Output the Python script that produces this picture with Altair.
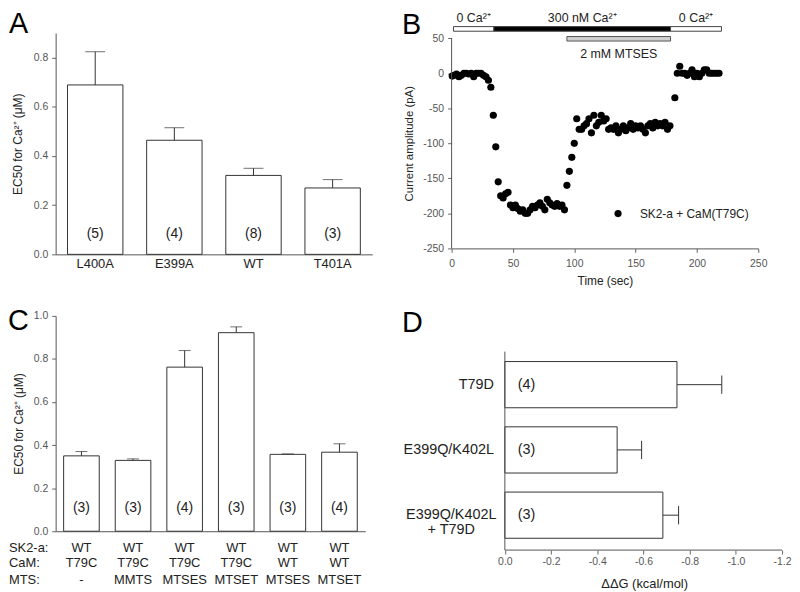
import altair as alt
import pandas as pd

FONT = "Liberation Sans"
INK = "#333333"

# ---------------- Panel A data ----------------
a_cats = ["L400A", "E399A", "WT", "T401A"]
a_vals = [0.689, 0.464, 0.321, 0.270]
a_errs = [0.824, 0.515, 0.350, 0.304]
a_n = ["(5)", "(4)", "(8)", "(3)"]

# ---------------- Panel B data ----------------
b_time = [0.5, 2, 4, 6, 8, 10, 12, 14, 16, 18, 20, 22, 24, 26, 28, 30, 32, 34, 36, 38,
          40, 42, 44, 46, 48, 50, 52, 54, 56, 58, 60, 62, 64, 66, 68, 70, 72, 74, 76, 78,
          80, 82, 84, 86, 88, 90, 92, 94, 96, 98, 100, 102, 104, 106, 108, 110, 112, 114, 116, 118,
          120, 122, 124, 126, 128, 130, 132, 134, 136, 138, 140, 142, 144, 146, 148, 150, 152, 154, 156, 158,
          160, 162, 164, 166, 168, 170, 172, 174, 176, 178, 182, 184, 186, 188, 190, 192, 194, 196, 198, 200,
          202, 204, 206, 208, 210, 212, 214, 216, 218]
b_curr = [-4, -3, -1, -5, -3, 0, 0, -1, 0, -5, 0, 0, 0, -3, -5, -10, -20, -60, -105, -155,
          -175, -178, -172, -170, -188, -192, -188, -193, -197, -195, -200, -200, -195, -190, -192, -188, -185, -190, -195, -180,
          -185, -188, -190, -186, -190, -188, -195, -160, -140, -120, -100, -65, -80, -80, -75, -72, -65, -85, -60, -75,
          -70, -60, -68, -65, -80, -78, -80, -75, -85, -80, -75, -82, -78, -72, -80, -75, -78, -75, -80, -85,
          -75, -72, -78, -70, -75, -72, -75, -70, -80, -75, -35, 0, 10, 0, 0, -3, 0, 5, -5, 0,
          -5, 0, 5, 5, 0, 0, 0, 0, 0]
b_seg_start = [1.5, 34.5, 178.5]
b_seg_end = [34.5, 178.5, 220.0]
b_seg_fill = ["white", "black", "white"]
b_seg_label = ["0 Ca²⁺", "300 nM Ca²⁺", "0 Ca²⁺"]
b_drug_start = [94.0]
b_drug_end = [178.5]
b_drug_label = ["2 mM MTSES"]
b_legend = ["SK2-a + CaM(T79C)"]

# ---------------- Panel C data ----------------
c_sk2 = ["WT", "WT", "WT", "WT", "WT", "WT"]
c_cam = ["T79C", "T79C", "T79C", "T79C", "WT", "WT"]
c_mts = ["-", "MMTS", "MTSES", "MTSET", "MTSES", "MTSET"]
c_vals = [0.350, 0.329, 0.762, 0.922, 0.357, 0.367]
c_errs = [0.370, 0.336, 0.839, 0.949, 0.359, 0.406]
c_n = ["(3)", "(3)", "(4)", "(3)", "(3)", "(4)"]
c_heads = ["SK2-a:", "CaM:", "MTS:"]

# ---------------- Panel D data ----------------
d_cats = ["T79D", "E399Q/K402L", "E399Q/K402L\n+ T79D"]
d_vals = [-0.745, -0.486, -0.684]
d_errs = [-0.939, -0.592, -0.752]
d_n = ["(4)", "(3)", "(3)"]


def letter(ch, dx, dy):
    return alt.Chart(pd.DataFrame({"t": [ch]})).mark_text(
        font=FONT, fontSize=29, align="left", baseline="alphabetic", color="black").encode(
        x=alt.value(dx), y=alt.value(dy), text="t:N")


def ax(**kw):
    base = dict(labelFont=FONT, titleFont=FONT, labelColor="#555555", tickColor="#666666",
                domainColor="#555555", titleColor="#222222", titleFontWeight="normal",
                grid=False, tickSize=4, labelFlush=False)
    base.update(kw)
    return alt.Axis(**base)


# ================= Panel A =================
dfA = pd.DataFrame({"cat": a_cats, "val": a_vals, "err": a_errs, "n": a_n})
dfA["npos"] = 0.083
scA_x = alt.Scale(domain=a_cats, paddingInner=0.3, paddingOuter=0.15)
scA_y = alt.Scale(domain=[0, 0.9], nice=False)
axA_x = ax(labelAngle=0, ticks=False, labelFontSize=13, labelColor="#222222", labelPadding=3)
axA_y = ax(values=[0, 0.2, 0.4, 0.6, 0.8], format=".1f", labelFontSize=10.5, labelPadding=4,
           titleFontSize=12, titlePadding=9)
titleA = "EC50 for Ca²⁺ (μM)"


def xA():
    return alt.X("cat:N", scale=scA_x, axis=axA_x, title=None)


def yA(f):
    return alt.Y(f, scale=scA_y, axis=axA_y, title=titleA)


barsA = alt.Chart(dfA).mark_bar(fill="white", stroke=INK, strokeWidth=1).encode(x=xA(), y=yA("val:Q"))
errA = alt.Chart(dfA).mark_rule(color=INK).encode(x=xA(), y=yA("val:Q"), y2="err:Q")
capA = alt.Chart(dfA).mark_tick(color=INK, size=20, thickness=1).encode(x=xA(), y=yA("err:Q"))
nA = alt.Chart(dfA).mark_text(font=FONT, fontSize=14, color="#222222").encode(
    x=xA(), y=yA("npos:Q"), text="n:N")
panelA = alt.layer(barsA, errA, capA, nA, letter("A", -47, 0)).properties(width=319, height=223)

# ================= Panel B =================
dfB = pd.DataFrame({"t": b_time, "c": b_curr})
dfSeg = pd.DataFrame({"s": b_seg_start, "e": b_seg_end, "f": b_seg_fill, "lab": b_seg_label})
dfSeg["mid"] = (dfSeg["s"] + dfSeg["e"]) / 2
dfSeg["ylo"] = 60.0
dfSeg["yhi"] = 66.6
dfSeg["ly"] = 79.5
dfDrug = pd.DataFrame({"s": b_drug_start, "e": b_drug_end, "lab": b_drug_label})
dfDrug["mid"] = (dfDrug["s"] + dfDrug["e"]) / 2
dfDrug["ylo"] = 46.0
dfDrug["yhi"] = 52.4
dfDrug["ly"] = 27.0
dfLeg = pd.DataFrame({"lab": b_legend, "x": [135.7], "tx": [153.5], "y": [-200.3]})
dfAxB = pd.DataFrame({"x": [0], "ylo": [-250], "yhi": [50]})

scB_x = alt.Scale(domain=[0, 250], nice=False)
scB_y = alt.Scale(domain=[-250, 57.4], nice=False)
axB_x = ax(values=[0, 50, 100, 150, 200, 250], format="d", labelFontSize=10.5, labelPadding=6,
           titleFontSize=12, titlePadding=7)
axB_y = ax(values=[-250, -200, -150, -100, -50, 0, 50], domain=False, labelFontSize=10.5,
           labelPadding=4, labelExpr="(datum.value < 0 ? '-' : '') + format(abs(datum.value), 'd')",
           titleFontSize=11.5, titlePadding=8, titleY=111)


def xB(f):
    return alt.X(f, scale=scB_x, axis=axB_x, title="Time (sec)")


def yB(f):
    return alt.Y(f, scale=scB_y, axis=axB_y, title="Current amplitude (pA)")


ptsB = alt.Chart(dfB).mark_circle(color="black", size=52, opacity=1).encode(x=xB("t:Q"), y=yB("c:Q"))
yaxisB = alt.Chart(dfAxB).mark_rule(color="#555555").encode(x=xB("x:Q"), y=yB("ylo:Q"), y2="yhi:Q")
segB = alt.Chart(dfSeg).mark_rect(stroke="#444444", strokeWidth=1).encode(
    x=xB("s:Q"), x2="e:Q", y=yB("ylo:Q"), y2="yhi:Q", fill=alt.Fill("f:N", scale=None))
segLab = alt.Chart(dfSeg).mark_text(font=FONT, fontSize=12.5, color="#222222").encode(
    x=xB("mid:Q"), y=yB("ly:Q"), text="lab:N")
drugB = alt.Chart(dfDrug).mark_rect(fill="#d0d0d0", stroke="#555555", strokeWidth=1).encode(
    x=xB("s:Q"), x2="e:Q", y=yB("ylo:Q"), y2="yhi:Q")
drugLab = alt.Chart(dfDrug).mark_text(font=FONT, fontSize=12.5, color="#222222").encode(
    x=xB("mid:Q"), y=yB("ly:Q"), text="lab:N")
legDot = alt.Chart(dfLeg).mark_circle(color="black", size=52, opacity=1).encode(x=xB("x:Q"), y=yB("y:Q"))
legTxt = alt.Chart(dfLeg).mark_text(font=FONT, fontSize=12, align="left", color="#222222").encode(
    x=xB("tx:Q"), y=yB("y:Q"), text="lab:N")
panelB = alt.layer(ptsB, yaxisB, segB, drugB, segLab, drugLab, legDot, legTxt,
                   letter("B", -50, 0.5)).properties(width=309, height=217)

# ================= Panel C =================
c_key = [c + " " + m for c, m in zip(c_cam, c_mts)]
dfC = pd.DataFrame({"key": c_key, "sk2": c_sk2, "cam": c_cam, "mts": c_mts,
                    "val": c_vals, "err": c_errs, "n": c_n})
dfC["npos"] = 0.109
dfC["zero"] = 0.0
scC_x = alt.Scale(domain=c_key, paddingInner=0.31, paddingOuter=0.155)
scC_y = alt.Scale(domain=[0, 1.0], nice=False)
axC_x = ax(labels=False, ticks=False)
axC_y = ax(values=[0, 0.2, 0.4, 0.6, 0.8, 1.0], format=".1f", labelFontSize=10.5, labelPadding=4,
           titleFontSize=12, titlePadding=8)
titleC = "EC50 for Ca²⁺ (μM)"


def xC():
    return alt.X("key:N", scale=scC_x, axis=axC_x, title=None)


def yC(f):
    return alt.Y(f, scale=scC_y, axis=axC_y, title=titleC)


barsC = alt.Chart(dfC).mark_bar(fill="white", stroke=INK, strokeWidth=1).encode(x=xC(), y=yC("val:Q"))
errC = alt.Chart(dfC).mark_rule(color=INK).encode(x=xC(), y=yC("val:Q"), y2="err:Q")
capC = alt.Chart(dfC).mark_tick(color=INK, size=12, thickness=1).encode(x=xC(), y=yC("err:Q"))
nC = alt.Chart(dfC).mark_text(font=FONT, fontSize=14, color="#222222").encode(
    x=xC(), y=yC("npos:Q"), text="n:N")
rowsC = []
for field, head, dy in zip(["sk2", "cam", "mts"], c_heads, [16.6, 32.3, 49.0]):
    rowsC.append(alt.Chart(dfC).mark_text(font=FONT, fontSize=13, color="#222222", dy=dy,
                                          baseline="middle").encode(
        x=xC(), y=yC("zero:Q"), text=f"{field}:N"))
    rowsC.append(alt.Chart(pd.DataFrame({"h": [head], "zero": [0.0]})).mark_text(
        font=FONT, fontSize=13, color="#222222", align="left", dy=dy, baseline="middle").encode(
        x=alt.value(-47), y=yC("zero:Q"), text="h:N"))
panelC = alt.layer(barsC, errC, capC, nC, *rowsC, letter("C", -48, 14.5)).properties(width=312, height=217)

# ================= Panel D =================
dfD = pd.DataFrame({"cat": d_cats, "val": d_vals, "err": d_errs, "n": d_n})
dfD["idx"] = list(range(len(d_cats)))
dfD["lo"] = dfD["idx"] - 0.354
dfD["hi"] = dfD["idx"] + 0.354
dfD["clo"] = dfD["idx"] - 0.14
dfD["chi"] = dfD["idx"] + 0.14
dfD["zero"] = 0.0
dfD["npos"] = -0.094
dfD1 = dfD[~dfD["cat"].str.contains("\n")]
dfD2 = dfD[dfD["cat"].str.contains("\n")]
dfAxD = pd.DataFrame({"x0": [0.0], "x1": [-1.2], "ytop": [-0.506], "ybot": [2.535]})

scD_x = alt.Scale(domain=[-1.2, 0.2305], nice=False, zero=False, reverse=True)
scD_y = alt.Scale(domain=[-1.054, 2.535], nice=False, zero=False, reverse=True)
axD_x = ax(values=[0, -0.2, -0.4, -0.6, -0.8, -1.0, -1.2], domain=False, labelFontSize=10.5,
           labelPadding=3, labelExpr="(datum.value < 0 ? '-' : '') + format(abs(datum.value), '.1f')",
           titleFontSize=13, titlePadding=10, titleX=194)


def xD(f):
    return alt.X(f, scale=scD_x, axis=axD_x, title="ΔΔG (kcal/mol)")


def yD(f):
    return alt.Y(f, scale=scD_y, axis=None)


barsD = alt.Chart(dfD).mark_rect(fill="white", stroke=INK, strokeWidth=1).encode(
    x=xD("val:Q"), x2="zero:Q", y=yD("lo:Q"), y2="hi:Q")
errD = alt.Chart(dfD).mark_rule(color=INK).encode(x=xD("val:Q"), x2="err:Q", y=yD("idx:Q"))
capD = alt.Chart(dfD).mark_rule(color=INK).encode(x=xD("err:Q"), y=yD("clo:Q"), y2="chi:Q")
yaxisD = alt.Chart(dfAxD).mark_rule(color="#555555").encode(x=xD("x0:Q"), y=yD("ytop:Q"), y2="ybot:Q")
xaxisD = alt.Chart(dfAxD).mark_rule(color="#555555").encode(x=xD("x0:Q"), x2="x1:Q", y=yD("ybot:Q"))
nD = alt.Chart(dfD).mark_text(font=FONT, fontSize=14.5, color="#222222").encode(
    x=xD("npos:Q"), y=yD("idx:Q"), text="n:N")
labD1 = alt.Chart(dfD1).mark_text(
    font=FONT, fontSize=14.5, color="#222222", align="right", dx=-11).encode(
    x=xD("zero:Q"), y=yD("idx:Q"), text="cat:N")
labD2 = alt.Chart(dfD2).mark_text(
    font=FONT, fontSize=14.5, color="#222222", align="center", dx=-54, lineBreak="\n",
    lineHeight=15).encode(x=xD("zero:Q"), y=yD("idx:Q"), text="cat:N")
panelD = alt.layer(barsD, errD, capD, yaxisD, xaxisD, nD, labD1, labD2,
                   letter("D", -50, 16.5)).properties(width=333, height=236)

chart = alt.concat(panelA, panelB, panelC, panelD, columns=2, bounds="flush",
                   spacing={"row": 62, "column": 80}).properties(padding=0).configure_view(stroke=None)

chart.save("out.html", embed_options={"renderer": "svg", "actions": False})
